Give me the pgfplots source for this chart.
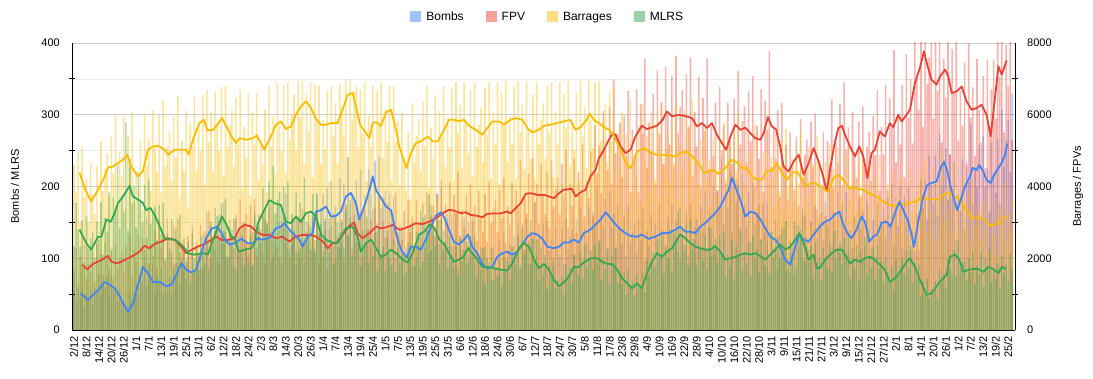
\documentclass[border=0pt]{standalone}
\usepackage{fontspec}
\setmainfont{Liberation Sans}
\usepackage{pgfplots}
\usepackage{pgfplotstable}
\pgfplotsset{compat=1.18}
\definecolor{cB}{RGB}{66,133,244}
\definecolor{cF}{RGB}{234,67,53}
\definecolor{cR}{RGB}{251,188,4}
\definecolor{cM}{RGB}{52,168,83}
\tikzset{lab/.style={font=\fontsize{11}{13}\selectfont}}

% daily values, day index 0 = 2/12
\pgfplotstableread{
B F R M
56 1670 4590 117
41 2270 3860 177
58 1270 4960 140
45 2050 3000 116
60 1740 5120 153
33 2360 3710 95
49 1430 4220 159
42 1840 3020 113
61 1610 4670 127
35 2140 3790 136
58 1350 3230 101
53 2390 4560 151
76 1810 3020 126
49 2110 5240 178
65 1550 3870 105
59 2450 4490 157
75 1980 4900 137
45 1680 3720 192
76 2270 5390 111
55 1440 4360 185
60 2390 5980 163
40 1740 3440 230
56 1990 4980 142
40 2160 4270 187
30 1640 5940 165
35 2360 3390 290
27 1920 5410 138
51 2640 4550 239
41 1530 6090 176
52 2220 3560 200
62 1920 4440 143
50 2690 3920 220
79 1540 5290 177
68 2560 3360 150
100 2240 6010 202
61 3110 4580 128
84 1870 5320 210
68 2410 3880 148
91 2090 6130 163
49 2780 5080 172
76 1740 4410 126
65 3080 6000 174
87 2320 3830 134
50 2700 6400 177
63 1970 4560 97
54 3110 5110 134
75 2520 5520 113
50 2150 4160 155
93 2920 5970 87
73 1860 4800 141
89 3100 6530 121
64 2180 3700 161
100 2420 5270 94
82 2550 4450 115
71 1870 6110 97
97 2620 3430 124
65 2120 5770 77
111 2910 5120 135
83 1680 6500 100
96 2440 4430 114
106 2100 5810 83
87 2920 4990 131
133 1670 6550 108
114 2750 4050 93
165 2390 6700 129
100 3310 5240 84
144 1990 6070 151
123 2550 4420 116
171 2220 6650 139
97 2940 5750 159
160 1840 4990 126
133 3210 6770 176
177 2390 4310 138
102 2730 6800 183
125 1970 5110 102
105 3070 5710 143
139 2590 6120 117
88 2280 4560 155
155 3210 6480 84
118 2120 5160 131
136 3650 6700 108
98 2630 3950 149
151 2980 5660 90
123 3220 4800 114
105 2420 6610 99
143 3470 3730 132
93 2730 6050 89
157 3650 5170 166
114 2050 6600 132
130 2890 4180 161
141 2410 5300 123
107 3310 4620 198
154 1860 6150 167
124 3020 3850 147
169 2590 6800 208
97 3520 5120 137
142 2100 5960 228
123 2670 4360 162
174 2290 6900 181
100 3010 5730 193
166 1860 4990 143
141 3250 6830 199
190 2420 4390 156
112 2760 6900 207
141 1990 5300 115
120 3100 5980 161
153 2560 6560 138
92 2220 5010 191
158 3080 6950 109
114 2000 5930 178
126 3390 6950 154
94 2430 4620 212
151 2750 6570 128
128 2950 5540 164
113 2210 6900 143
159 3160 4260 189
108 2490 6850 112
191 3330 5820 189
144 1870 6800 134
170 2640 4630 148
190 2210 5840 101
141 3030 5040 156
198 1710 6660 126
156 2780 4140 108
208 2380 6800 145
117 3250 5420 92
172 1990 6340 159
149 2590 4660 117
211 2290 6850 136
122 3090 6190 150
203 1960 5420 115
175 3500 6950 166
241 2660 4820 132
144 3120 7000 181
185 2290 5870 103
160 3650 6660 148
209 2920 6800 122
129 2440 5090 162
223 3260 6700 89
165 2040 5480 139
188 3340 6900 116
140 2450 4140 158
224 2820 5980 94
190 3090 5120 119
168 2360 6800 103
236 3430 4050 136
148 2740 6650 83
242 3720 5770 141
169 2110 6900 103
185 3030 4790 116
194 2570 6160 82
139 3540 5240 128
190 2000 6800 106
145 3260 4160 91
186 2800 6800 126
101 3830 5260 81
137 2290 5820 134
110 2910 4030 94
144 2510 6050 104
76 3310 4740 109
116 2050 3900 80
103 3620 5510 122
143 2730 3650 104
88 3160 6320 150
114 2300 4670 90
101 3630 5420 136
137 2980 5880 118
87 2570 4430 166
156 3530 6370 96
119 2280 5130 160
140 3840 6800 140
106 2790 3960 189
174 3180 5650 111
149 3460 4770 139
134 2620 6550 118
191 3780 3680 153
120 3060 6110 91
198 4190 5360 155
139 2410 6800 111
154 3490 4550 123
161 3000 5910 85
117 4120 5100 131
161 2320 6730 104
125 3770 4190 88
163 3230 6900 117
89 4410 5480 74
129 2620 6270 128
113 3340 4510 95
157 2870 6900 111
91 3770 5740 123
150 2330 4920 95
123 4060 6700 131
161 3020 4280 102
91 3450 6900 133
110 2480 5110 73
90 3870 5730 101
115 3180 6210 84
69 2750 4690 114
117 3790 6750 63
85 2450 5440 101
94 4150 6900 85
71 2980 4230 115
115 3370 6080 69
98 3640 5180 87
87 2730 6900 75
124 3900 4060 97
80 3120 6620 61
136 4230 5700 108
98 2410 6950 83
111 3450 4670 96
120 2930 5960 70
92 4110 5150 116
132 2350 6790 101
108 3890 4220 91
147 3400 6950 132
85 4720 5530 89
126 2860 6280 148
111 3710 4480 105
156 3250 6930 118
91 4360 5620 124
153 2750 4770 92
130 4790 6570 127
177 3570 4240 97
105 4090 6900 126
133 2950 5170 68
114 4600 5860 93
146 3750 6330 77
89 3220 4760 104
152 4400 6830 57
111 2820 5480 90
124 4740 6900 75
90 3440 4250 99
143 3920 6100 58
118 4260 5190 70
102 3220 6900 59
142 4640 4060 74
92 3710 6590 49
156 5020 5640 91
113 2850 6950 71
129 4090 4580 86
140 3470 5810 66
106 4780 5020 105
154 2700 6630 88
124 4400 4120 77
170 3780 6950 107
98 5170 5390 71
142 3170 6220 120
123 4160 4520 88
172 3680 6950 101
99 4980 5860 111
164 3170 5070 84
144 5700 6900 119
201 4360 4410 94
123 5140 6950 125
160 3810 5260 70
141 6100 5900 100
183 5090 6290 84
112 4450 4670 114
194 6220 6610 64
143 4070 5240 104
162 6980 6800 88
115 4930 3900 115
176 5470 5460 66
142 5790 4530 79
120 4260 6080 64
160 5980 3350 80
103 4850 5450 49
172 6670 4690 83
121 3850 6420 61
136 5590 3840 68
146 4820 4900 48
109 6710 4270 78
156 3830 5680 65
125 6300 3560 58
169 5480 6300 80
96 7570 4750 53
138 4520 5420 99
117 5780 3890 77
161 4990 6050 94
91 6580 4930 109
148 4090 4210 87
128 7240 5780 126
177 5470 3720 102
106 6350 6260 138
137 4640 4490 79
119 7340 5080 114
158 6010 5460 100
99 5160 4090 141
175 7080 5830 82
132 4550 4660 137
152 7650 6310 121
109 5500 3610 166
170 6210 5190 99
139 6680 4430 128
119 5000 6130 110
162 7140 3480 146
104 5660 5600 89
175 7600 4760 154
127 4290 6440 112
144 6090 3800 126
155 5120 4790 90
118 7050 4080 139
173 3970 5320 114
140 6460 3260 97
194 5540 5630 133
112 7570 4150 85
164 4480 4760 143
142 5670 3430 103
201 4850 5360 118
116 6340 4390 127
192 3900 3770 95
170 6770 5220 132
239 5010 3400 103
147 5710 5780 137
193 4090 4190 75
171 6340 4780 105
224 5290 5160 90
138 4620 3870 125
239 6450 5530 71
178 4220 4430 117
203 7220 6010 102
143 5170 3390 139
217 5820 4800 84
173 6250 4040 107
144 4670 5510 93
192 6650 3080 123
123 5270 4970 76
205 7080 4230 132
146 4000 5720 98
163 5680 3380 112
175 4780 4270 80
127 6710 3730 126
175 3850 4970 103
136 6390 3120 89
178 5590 5530 123
98 7770 4170 79
137 4540 4810 137
113 5650 3480 101
153 4760 5460 116
84 6120 4490 129
133 3710 3870 99
110 6330 5260 142
143 4600 3360 112
81 5150 5610 152
98 3620 3990 86
80 5500 4470 123
115 4530 4800 107
77 3910 3600 151
145 5390 5120 88
116 3480 4090 146
141 5890 5530 128
101 4270 3120 168
159 4880 4440 95
129 5310 3740 116
111 4020 5110 95
151 5800 2870 118
100 4540 4640 72
173 6030 3970 122
128 3360 5390 89
148 4710 3200 99
164 3920 4060 70
124 5510 3530 114
180 3170 4700 97
146 5270 2940 86
200 4620 5190 123
115 6430 3900 81
164 3970 4500 138
139 5220 3260 99
191 4650 5110 113
107 6310 4210 122
173 4030 3630 92
145 6900 4920 128
193 5030 3130 100
111 5650 5190 131
138 3980 3680 73
115 6080 4110 101
158 4960 4420 86
102 4240 3300 119
183 5800 4710 68
141 3720 3760 111
167 6230 5080 96
117 4500 2870 131
177 5110 4080 78
140 5520 3440 101
116 4160 4700 87
153 5960 2630 115
102 4860 4240 69
177 6700 3610 118
131 3880 4880 86
152 5660 2880 96
168 4890 3630 67
128 6830 3110 101
185 3910 4080 80
149 6460 2520 67
204 5630 4370 89
118 7800 3240 55
170 4670 3730 97
145 5970 2700 74
200 5170 4240 88
113 6830 3480 100
186 4260 3000 78
152 7690 4140 110
198 5910 2680 87
112 7000 4530 117
136 5200 3270 66
110 8370 3710 93
161 7010 4020 73
110 6150 3040 92
210 8620 4360 46
170 5660 3510 67
211 9730 4780 51
154 6860 2720 71
243 7600 3890 44
202 8020 3290 57
175 5890 4530 51
243 8240 2550 68
160 6660 4190 45
274 9100 3630 83
201 5230 5010 65
231 7560 3020 79
253 6480 3880 59
181 8790 3330 99
245 4890 4360 86
184 7830 2690 77
235 6620 4690 112
126 8910 3480 76
188 5280 3920 124
166 6670 2780 86
238 5700 4260 94
139 7460 3420 96
235 4590 2880 70
206 7980 3900 100
287 5920 2470 81
174 6760 4110 109
226 4860 2910 63
199 7550 3240 90
258 6130 3450 77
158 5220 2560 107
271 7080 3600 60
199 4520 2850 99
225 7530 3810 85
165 5670 2170 115
262 6710 3120 67
218 7540 2660 85
191 5890 3670 71
266 8760 2080 93
176 7060 3430 58
307 9620 2990 103
227 5510 4130 79
265 7950 2500 92
293 6800 3220 67
220 9360 2780 105
330 5290 3670 86
}\bars

\pgfplotstableread{
d v
3.2 51
6.7 42
10 51
12.4 58
14.8 67
17.2 63
19.6 58
22 47
24.4 33
26 26
28.4 37
30.8 63
33.2 88
35.6 79
38.1 67
41.3 67
44.5 61
46.9 63
49.3 77
51.7 93
54.1 84
56.5 80
58.9 84
61.3 107
63.7 128
66.2 141
69 144
71 135
72.6 126
75 119
77.4 121
80.6 127
83.8 121
86.2 121
88.6 128
90.1 126
92.5 127
94.9 130
97.3 142
99.7 144
101.3 149
103.7 140
106.1 133
108.5 126
110.1 116
112.6 130
115 135
116.6 165
119 167
121.4 172
123.8 158
126.2 159
128.6 165
131 186
133.4 191
135.8 177
137.4 154
139.8 172
142.3 195
143.9 214
145.5 195
147.9 184
150.3 172
152.7 167
155.1 135
157.5 112
160.2 101
162.3 116
164.7 116
167.1 112
169.5 126
172 144
174.4 160
176.8 164
178.5 156
180.6 140
183 123
185.5 119
187.9 126
189.8 133
191.9 116
194.3 107
196.7 92
199.1 86
201.5 88
203.9 102
206.3 107
208.7 109
211.1 105
213.5 109
216 119
218.4 130
220.8 135
223.2 133
225.6 127
228 116
231.2 114
233.6 116
235.9 122
238.3 122
240.8 126
243.2 122
245.6 135
248.8 140
251.3 147
253.7 154
256.1 164
258.5 156
260.9 147
263.3 140
265.7 135
268.1 131
271.2 130
273.6 133
276.8 127
280 130
283.2 135
286.5 135
289.7 140
292.1 144
294.5 137
296.9 137
299.3 135
301.7 144
304.1 149
306.5 156
308.9 163
311.3 172
313.7 186
315.3 195
317 212
318.6 200
321 181
323.4 158
325.8 165
328.2 163
330.6 154
333 142
335.4 130
337.8 126
340.2 116
342.6 98
345 91
347.5 116
349.4 133
351.5 126
353.9 123
356.3 133
358.7 142
361.3 150
364.2 154
366.6 161
368.7 165
370.6 147
373 133
374.6 128
377 140
379.4 158
381 151
383.1 123
385 130
386.9 133
389 149
391.4 151
393.3 144
395.5 163
397.6 179
399.5 167
401.9 151
403.5 133
404.6 116
406.7 151
409.1 186
411 202
413.1 205
415.5 207
417.5 226
419.1 235
420.7 221
422.3 200
424.4 177
425.5 167
427.1 181
429.2 200
431.6 214
432.9 226
434.8 223
436.1 230
438 221
439.6 209
441.6 205
443.2 216
445.3 226
446.9 233
448.5 244
449.6 260
}\lineB

\pgfplotstableread{
d v
3.9 1814
6.4 1693
9.2 1842
13.2 1953
16.4 2065
18 1907
20.4 1860
22.8 1900
26 2000
29.2 2093
31.6 2186
34 2344
36.4 2279
38.9 2400
42.1 2465
45.3 2558
48.5 2512
50.9 2372
54.1 2140
56.5 2233
59.7 2326
62.9 2400
66.2 2512
68.6 2605
71 2512
74.2 2512
77.4 2558
79.8 2837
82.2 2930
85.4 2884
87.7 2744
90.9 2651
94.1 2651
97.3 2558
100.4 2600
103.7 2465
106.9 2605
110.1 2651
113.3 2651
116.6 2605
119.9 2465
122.2 2279
124.6 2419
127 2440
129.4 2651
132.6 2902
135 2995
136.6 2698
139 2558
142.3 2698
145.5 2884
147.9 2837
150.3 2860
153.5 2930
156.7 2791
159.1 2830
161.5 2884
164.7 2977
167.9 2950
171.2 3023
174.4 3116
177.6 3256
180.6 3349
183 3330
186.3 3256
188.7 3280
191.1 3209
194.3 3181
196.7 3144
199.1 3237
202.3 3250
205.5 3250
208.7 3302
210.3 3250
212.7 3395
215.2 3535
217.6 3795
220 3814
223.2 3767
226.4 3767
228.8 3721
231.2 3674
233.6 3814
235.9 3907
238.3 3926
239.9 3930
241.6 3721
243.9 3833
246.4 3907
248.8 4279
251.3 4465
252.9 4791
255.3 5023
257.7 5302
259.3 5470
260.9 5440
263.3 5116
265.7 4930
268.1 5023
270.5 5400
273.6 5693
276 5600
278.4 5650
280.8 5693
283.6 5860
285.6 6093
288.1 5953
291.3 6000
294.5 5960
297.7 5907
300.1 5674
302.5 5767
304.9 5628
307.3 5767
309.7 5442
312.1 5209
314.2 5023
316.2 5395
318.6 5721
321 5581
323.4 5640
325.8 5488
328.2 5349
330.6 5302
332.2 5488
334.3 5935
336.2 5674
338.1 5600
340.2 5116
341.8 4558
344.2 4419
346.7 4698
349.1 4884
351.5 4326
353.9 4651
356.3 5070
358.7 4698
360.9 4279
362.6 3860
364.2 4465
366.1 5116
368.2 5628
369.9 5693
371.4 5442
373.8 5116
376.2 4837
378.3 5116
380.2 4837
382.2 4233
384.2 4930
385.8 5023
388.2 5535
390.6 5395
393 5767
394.6 5650
397.1 6000
398.7 5814
401.1 6000
402.7 6140
405.1 6884
407.5 7302
409.4 7767
411 7395
413.1 6977
415.5 6837
417.2 7070
419.6 7256
421.2 7070
422.8 6605
425.2 6651
427.6 6791
430 6372
432.4 6140
434.8 6186
437.2 6279
439.6 6000
441.6 5395
443.2 6233
445.3 7349
446.9 7116
449.3 7516
}\lineF

\pgfplotstableread{
d v
2.7 4390
5.5 3900
8.3 3581
11.6 3907
14.8 4279
16.4 4530
18.8 4558
21.2 4651
23.6 4744
25.7 4884
27.6 4558
30.8 4279
33.2 4419
35.6 5023
38 5116
40.5 5135
43.7 5023
45.3 4884
48.5 5023
51.7 5023
54.1 5023
55.2 4884
57.8 5395
60.5 5767
62.6 5860
64.2 5563
67 5581
69 5721
71.3 5907
73.4 5674
75.8 5395
78.2 5209
79.8 5349
83 5302
86.2 5349
88 5420
90.1 5209
91.7 5023
94.1 5302
97.3 5721
99.7 5814
102.1 5600
104.5 5674
106.9 6000
109.3 6233
111.8 6372
114.2 6186
116.6 5879
119 5721
121.4 5721
123.8 5767
127 5767
129.4 6140
131.8 6558
134.2 6605
135.8 6233
137.8 5721
140.7 5488
142.3 5349
143.9 5786
145.8 5786
147.9 5693
150.3 6065
152.7 6140
154.8 5674
156.7 5116
158.3 4837
160.2 4512
162.3 4930
164.7 5209
167.1 5256
170.4 5395
172.8 5256
175.2 5256
177.6 5500
180.6 5860
183 5860
185.5 5820
187.9 5860
190.3 5693
193.5 5581
196.7 5442
199.1 5628
201.5 5814
204.7 5814
207.1 5721
210.3 5860
212.7 5907
216 5860
218.4 5628
220.8 5507
224 5581
226.4 5693
229.6 5721
232.8 5767
235.9 5814
239.1 5860
241.6 5581
243.9 5650
246.4 5814
248.5 6028
250.4 5860
252.9 5767
255.3 5656
257.7 5581
259.3 5488
261.7 5209
264.1 4930
266.2 4605
268.1 4512
269.5 4650
271.2 4977
274.4 5070
277.6 4949
280.8 4884
283.6 4884
287.3 4856
289.7 4840
292.9 4949
295.3 4977
297.7 4840
300.9 4651
303.3 4391
305.7 4420
308.1 4465
310.5 4353
313.7 4512
317 4744
319.4 4670
321.8 4512
324.2 4512
326.6 4279
329 4186
331.4 4186
333.8 4465
336.2 4420
338.6 4651
341 4372
343.4 4186
345.8 4372
348.3 4420
350.7 4186
352.3 4000
354.7 4093
357.1 4093
359.5 4000
361.8 3907
363.4 3860
365.8 4233
368.2 4326
370.6 4186
373.8 3953
377 3950
380.2 3907
383.4 3795
386.6 3721
389.8 3581
393 3488
395.5 3442
397.9 3535
400.3 3490
402.7 3553
405.9 3580
408.3 3721
410.7 3647
413.9 3640
416.4 3647
418.8 3767
421.2 3833
423.6 3740
426.8 3628
430 3349
432.4 3116
434.8 3116
438 3116
440.4 2930
442.8 2930
446 2995
448 3163
449.3 3163
}\lineR

\pgfplotstableread{
d v
2.7 140
5.9 121
8.3 112
11.6 130
13.2 130
15.6 154
17.7 151
19.6 163
21.2 177
23.6 186
26.8 201
28.4 186
30.8 182
33.2 177
34.8 167
36.9 170
38.9 160
41.3 144
43.7 128
46.1 126
48.5 126
50.9 121
53.3 114
54.9 107
58.1 105
61.3 107
62.9 107
64.5 105
67 126
69.4 144
71.3 158
73.4 147
75.8 130
77.4 128
79.3 109
82.2 112
85.4 114
87 121
88.5 148
90.9 163
94.1 181
96.5 177
99.7 174
102.1 151
104.5 149
106.9 158
109.3 151
111.8 163
114.2 165
116.6 158
119 133
121.4 126
123.8 123
126.2 120
128.6 130
131 142
134.2 144
136.6 130
138.2 109
140.7 121
143.1 126
145.5 114
147.9 102
150.3 105
152.7 112
155.1 107
158.3 98
160.7 94
163.1 107
166.3 133
168.7 137
171.2 147
173.6 142
176 126
178.3 120
180.6 107
183 95
185.5 98
187.9 103
189.8 114
191.9 107
194.3 98
196.7 88
199.1 88
202.3 86
205.5 84
208.7 83
211.1 93
214.4 114
216.8 121
219.2 116
221.6 98
224 86
226.4 92
228.8 84
231.2 70
233.6 61
235.9 66
238.3 74
240.8 88
243.2 88
245.6 94
248.8 100
252.1 100
254.5 95
256.9 92
259.3 92
261.7 84
264.1 72
266.5 65
268.9 58
271.2 65
273.6 58
276 79
278.4 95
280.8 107
283.2 102
285.6 109
288.1 114
290.5 126
292.1 133
294.5 128
296.9 121
299.3 116
301.7 114
304.1 112
306.5 112
308.9 117
311.3 109
313.7 98
316.2 100
318.6 102
321 105
323.4 107
325.8 105
328.2 107
330.6 103
333 98
335.4 105
337.8 112
340.2 119
342.6 112
345 116
347.5 126
349.4 135
351.5 121
353.9 98
356.3 105
357.9 86
359.5 87
361.8 98
365 107
367.4 112
369.9 112
371.4 105
373.8 93
376.2 98
378.6 95
381 100
383.4 102
385.8 98
388.2 91
390.6 84
393 67
395.5 72
398.7 84
401.1 95
402.7 100
405.1 88
407.5 70
410.7 49
413.1 51
415.5 61
418 70
420.4 77
422 102
424.4 105
426.5 98
428.4 81
430.8 84
433.2 85
435.6 85
438 81
440.4 88
442.8 85
445.3 79
446.9 88
448.9 85
}\lineM

\pgfplotsset{
  base/.style={
    at={(72pt,49pt)}, anchor=south west, scale only axis,
    width=943pt, height=287pt,
    xmin=-0.96, xmax=453.3,
    separate axis lines,
    xtick=\empty, ytick=\empty,
    axis line style={draw=none},
    major tick length=0pt, minor tick length=0pt,
    every non boxed x axis/.append style={x axis line style={-}},
    every non boxed y axis/.append style={y axis line style={-}},
  },
  lefts/.style={ymin=0, ymax=400},
  rights/.style={ymin=0, ymax=8000},
  barp/.style={ybar, bar width=0.78, bar shift=0pt, draw=none, fill opacity=0.4, forget plot},
  linep/.style={line width=1.8pt, line join=round, no markers, forget plot},
}

\begin{document}
\begin{tikzpicture}
\useasboundingbox (0pt,0pt) rectangle (1093pt,379pt);

% grid + bombs bars (left scale)
\begin{axis}[base, lefts,
  ytick={0,100,200,300,400}, minor ytick={50,150,250,350},
  yticklabels={}, ymajorgrids, yminorgrids,
  major grid style={draw=black!20, line width=0.7pt},
  minor grid style={draw=black!8, line width=0.7pt}]
\addplot[barp, fill=cB] table[x expr=\coordindex, y=B] {\bars};
\end{axis}

% FPV and barrages bars (right scale)
\begin{axis}[base, rights]
\addplot[barp, fill=cF] table[x expr=\coordindex, y=F] {\bars};
\addplot[barp, fill=cR] table[x expr=\coordindex, y=R] {\bars};
\end{axis}

% MLRS bars (left scale)
\begin{axis}[base, lefts]
\addplot[barp, fill=cM] table[x expr=\coordindex, y=M] {\bars};
\end{axis}

% FPV and barrages lines + right axis
\begin{axis}[base, rights,
  axis y line*=right, axis x line=none,
  axis line style={draw=black, line width=0.9pt, -},
  ytick={0,2000,4000,6000,8000}, minor ytick={1000,3000,5000,7000},
  minor tick length=6pt, tick align=center,
  tick style={black, line width=0.9pt},
  scaled y ticks=false,
  /pgf/number format/assume math mode=true,
  /pgf/number format/1000 sep={},
  yticklabel style={lab, anchor=west, inner sep=0pt},
  yticklabel shift=12pt,
  ylabel={Barrages / FPVs},
  every axis y label/.style={at={(axis description cs:1,0.5)}, xshift=63pt, rotate=90, anchor=center, lab},
]
\addplot[linep, cF] table {\lineF};
\addplot[linep, cR] table {\lineR};
\end{axis}

% bombs and MLRS lines + left and bottom axes + legend
\begin{axis}[base, lefts,
  axis x line*=bottom, axis y line*=left,
  axis line style={draw=black, line width=0.9pt, -},
  ytick={0,100,200,300,400}, minor ytick={50,150,250,350},
  minor tick length=6pt, tick align=center,
  tick style={black, line width=0.9pt},
  /pgf/number format/assume math mode=true,
  y tick label style={lab, anchor=east, inner sep=0pt},
  yticklabel shift=12pt,
  xtick={0,6,...,450},
  xticklabels={2/12,8/12,14/12,20/12,26/12,1/1,7/1,13/1,19/1,25/1,31/1,6/2,12/2,18/2,24/2,2/3,8/3,14/3,20/3,26/3,1/4,7/4,13/4,19/4,25/4,1/5,7/5,13/5,19/5,25/5,31/5,6/6,12/6,18/6,24/6,30/6,6/7,12/7,18/7,24/7,30/7,5/8,11/8,17/8,23/8,29/8,4/9,10/9,16/9,22/9,28/9,4/10,10/10,16/10,22/10,28/10,3/11,9/11,15/11,21/11,27/11,3/12,9/12,15/12,21/12,27/12,2/1,8/1,14/1,20/1,26/1,1/2,7/2,13/2,19/2,25/2},
  x tick label style={lab, rotate=90, anchor=east, inner sep=0pt},
  xticklabel shift=6pt,
  ylabel={Bombs / MLRS},
  every axis y label/.style={at={(axis description cs:0,0.5)}, xshift=-57pt, rotate=90, anchor=center, lab},
  legend columns=4,
  legend style={at={(axis description cs:0.5045,1)}, anchor=center, yshift=26pt,
    draw=none, fill=none, font=\fontsize{12}{14}\selectfont,
    /tikz/every even column/.append style={column sep=20pt},
    /tikz/every odd column/.append style={column sep=3pt}},
  legend image code/.code={\fill[#1] (0pt,-5.5pt) rectangle (11pt,5.5pt);},
]
\addlegendimage{fill=cB!50!white, draw=none}
\addlegendentry{Bombs}
\addlegendimage{fill=cF!50!white, draw=none}
\addlegendentry{FPV}
\addlegendimage{fill=cR!50!white, draw=none}
\addlegendentry{Barrages}
\addlegendimage{fill=cM!50!white, draw=none}
\addlegendentry{MLRS}
\addplot[linep, cB] table {\lineB};
\addplot[linep, cM] table {\lineM};
\end{axis}
\end{tikzpicture}
\end{document}
